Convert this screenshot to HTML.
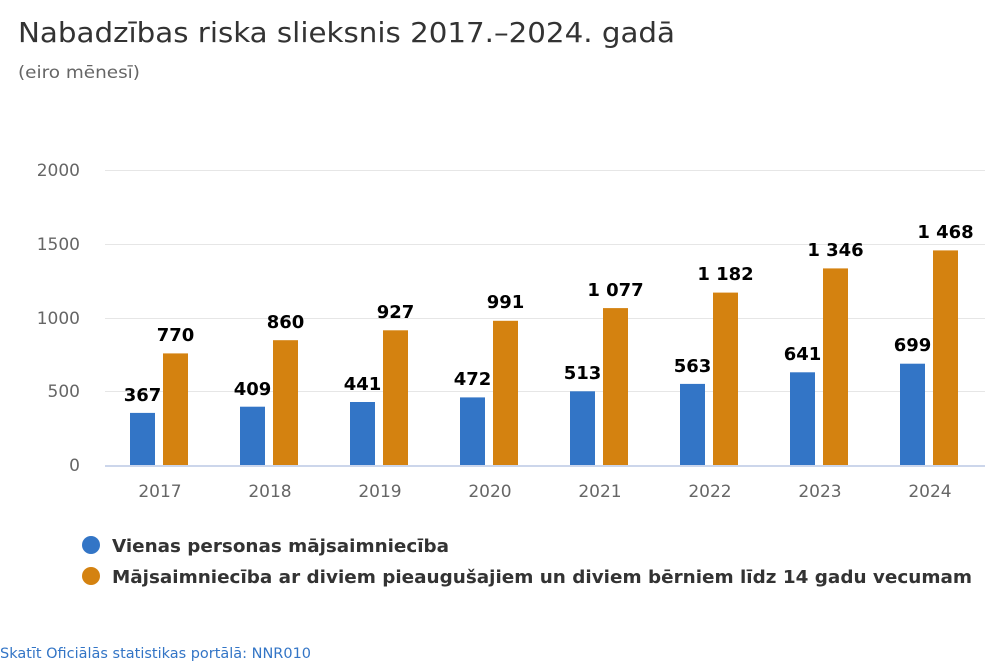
<!DOCTYPE html>
<html><head><meta charset="utf-8"><style>
body{margin:0;background:#fff;width:1000px;height:667px;overflow:hidden;font-family:"DejaVu Sans",sans-serif}
</style></head><body>
<svg width="1000" height="667" xmlns="http://www.w3.org/2000/svg" font-family="DejaVu Sans, sans-serif">
<text x="18" y="42" font-size="28" fill="#333" font-family="DejaVu Sans Condensed, DejaVu Sans, sans-serif" textLength="657" lengthAdjust="spacingAndGlyphs">Nabadzības riska slieksnis 2017.–2024. gadā</text>
<text x="18" y="78" font-size="17" fill="#666" font-family="DejaVu Sans Condensed, DejaVu Sans, sans-serif" textLength="122" lengthAdjust="spacingAndGlyphs">(eiro mēnesī)</text>
<g stroke="#e6e6e6" stroke-width="1">
<line x1="105" x2="985" y1="170.5" y2="170.5"/>
<line x1="105" x2="985" y1="244.5" y2="244.5"/>
<line x1="105" x2="985" y1="318.5" y2="318.5"/>
<line x1="105" x2="985" y1="391.5" y2="391.5"/>
</g>
<line x1="105" x2="985" y1="466" y2="466" stroke="#ccd6eb" stroke-width="2"/>
<g font-size="17" fill="#666" text-anchor="end">
<text x="80" y="176">2000</text><text x="80" y="250">1500</text><text x="80" y="324">1000</text><text x="80" y="397">500</text><text x="80" y="471">0</text>
</g>
<g font-size="17" fill="#666" text-anchor="middle">
<text x="160" y="497">2017</text><text x="270" y="497">2018</text><text x="380" y="497">2019</text><text x="490" y="497">2020</text><text x="600" y="497">2021</text><text x="710" y="497">2022</text><text x="820" y="497">2023</text><text x="930" y="497">2024</text>
</g>
<g font-size="18" font-weight="bold" fill="#000" text-anchor="middle">
<rect x="130" y="412.9" width="25" height="52.1" fill="#3375c6"/><rect x="163" y="353.4" width="25" height="111.6" fill="#d48210"/>
<text x="142.5" y="401">367</text><text x="175.5" y="341">770</text>
<rect x="240" y="406.7" width="25" height="58.3" fill="#3375c6"/><rect x="273" y="340.2" width="25" height="124.8" fill="#d48210"/>
<text x="252.5" y="395">409</text><text x="285.5" y="328">860</text>
<rect x="350" y="402" width="25" height="63" fill="#3375c6"/><rect x="383" y="330.3" width="25" height="134.7" fill="#d48210"/>
<text x="362.5" y="390">441</text><text x="395.5" y="318">927</text>
<rect x="460" y="397.4" width="25" height="67.6" fill="#3375c6"/><rect x="493" y="320.8" width="25" height="144.2" fill="#d48210"/>
<text x="472.5" y="385">472</text><text x="505.5" y="308">991</text>
<rect x="570" y="391.3" width="25" height="73.7" fill="#3375c6"/><rect x="603" y="308.1" width="25" height="156.9" fill="#d48210"/>
<text x="582.5" y="379">513</text><text x="615.5" y="296">1 077</text>
<rect x="680" y="383.9" width="25" height="81.1" fill="#3375c6"/><rect x="713" y="292.6" width="25" height="172.4" fill="#d48210"/>
<text x="692.5" y="372">563</text><text x="725.5" y="280">1 182</text>
<rect x="790" y="372.3" width="25" height="92.7" fill="#3375c6"/><rect x="823" y="268.4" width="25" height="196.6" fill="#d48210"/>
<text x="802.5" y="360">641</text><text x="835.5" y="256">1 346</text>
<rect x="900" y="363.7" width="25" height="101.3" fill="#3375c6"/><rect x="933" y="250.4" width="25" height="214.6" fill="#d48210"/>
<text x="912.5" y="351">699</text><text x="945.5" y="238">1 468</text>
</g>
<circle cx="91" cy="545" r="9" fill="#3375c6"/>
<circle cx="91" cy="576" r="9" fill="#d48210"/>
<g font-size="18" font-weight="bold" fill="#333">
<text x="112" y="552" textLength="337" lengthAdjust="spacingAndGlyphs">Vienas personas mājsaimniecība</text>
<text x="112" y="583" textLength="860" lengthAdjust="spacingAndGlyphs">Mājsaimniecība ar diviem pieaugušajiem un diviem bērniem līdz 14 gadu vecumam</text>
</g>
<text x="0" y="658" font-size="14" fill="#3375c6" textLength="311" lengthAdjust="spacingAndGlyphs">Skatīt Oficiālās statistikas portālā: NNR010</text>
</svg>
</body></html>
